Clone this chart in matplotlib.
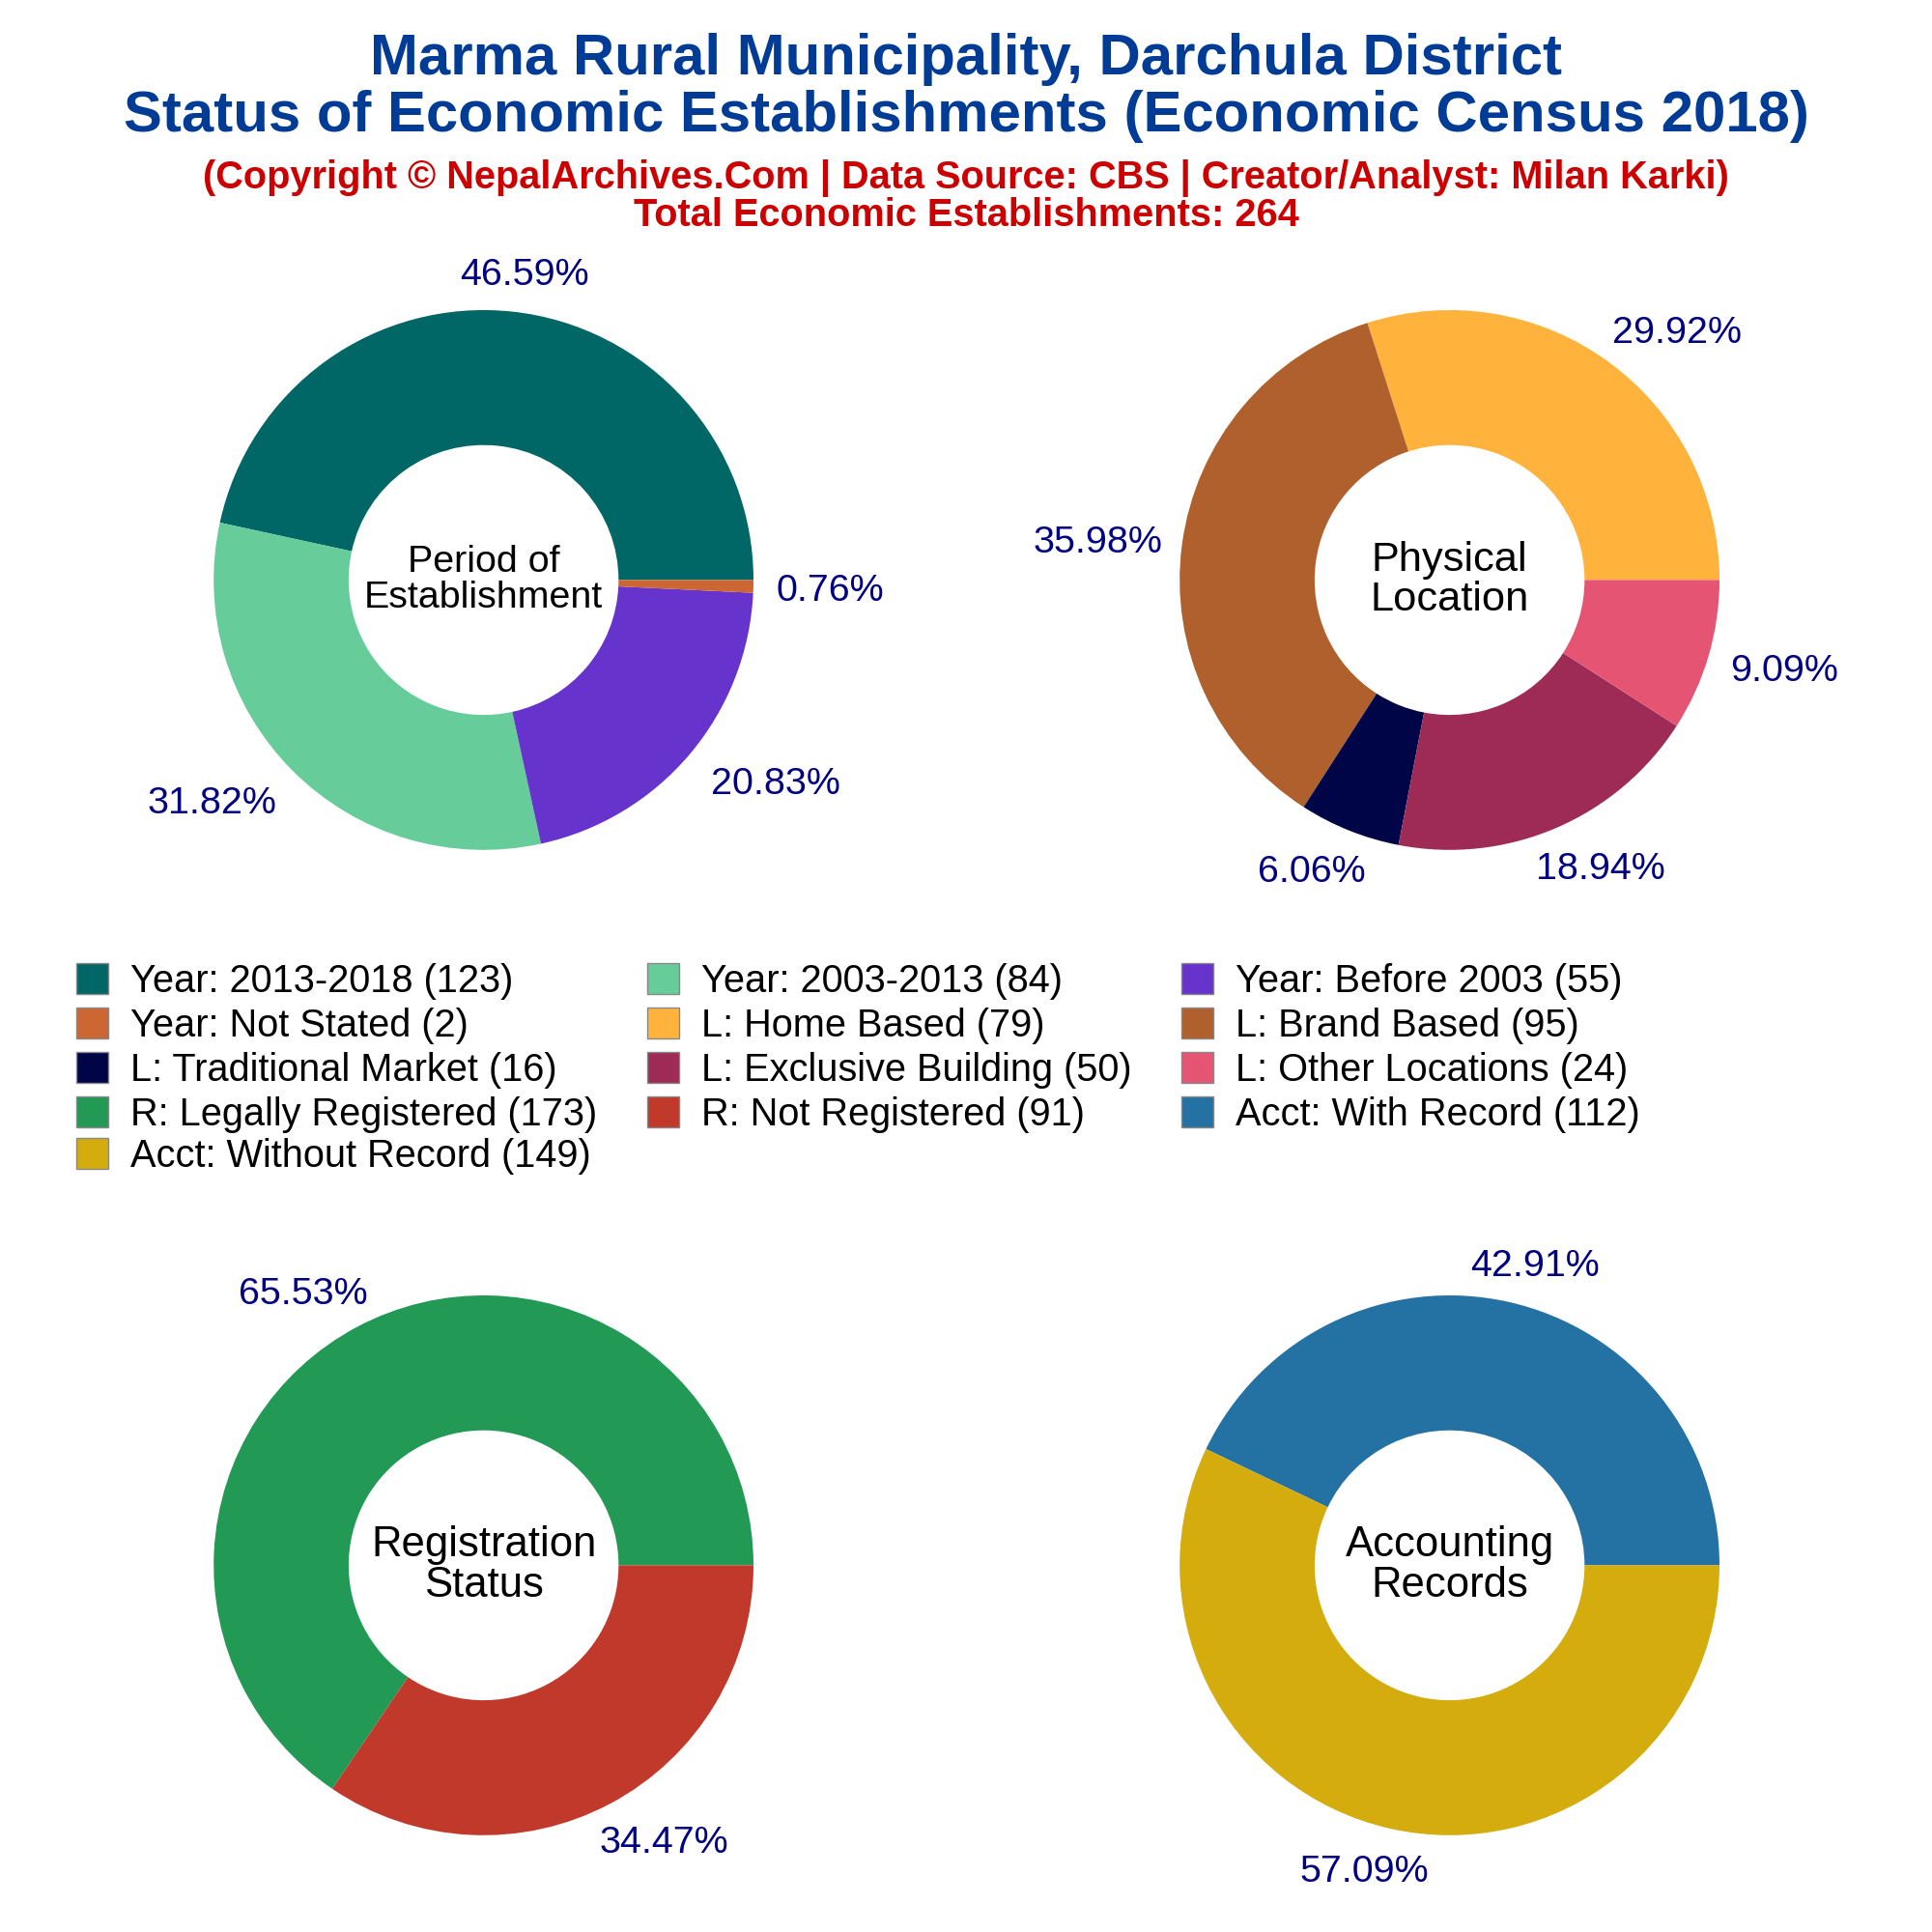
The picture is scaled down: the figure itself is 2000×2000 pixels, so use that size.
import numpy as np
import matplotlib
matplotlib.use("Agg")
import matplotlib.pyplot as plt

plt.rcParams['font.family'] = ['Liberation Sans', 'DejaVu Sans']

period_labels = ['Year: 2013-2018', 'Year: 2003-2013', 'Year: Before 2003', 'Year: Not Stated']
period_values = [123, 84, 55, 2]
period_colors = ['#006666', '#66CC99', '#6633CC', '#CC6633']

location_labels = ['L: Home Based', 'L: Brand Based', 'L: Traditional Market', 'L: Exclusive Building', 'L: Other Locations']
location_values = [79, 95, 16, 50, 24]
location_colors = ['#FFB33D', '#B0602C', '#000548', '#9E2A56', '#E55573']

reg_labels = ['R: Legally Registered', 'R: Not Registered']
reg_values = [173, 91]
reg_colors = ['#229955', '#C0392B']

acct_labels = ['Acct: With Record', 'Acct: Without Record']
acct_values = [112, 149]
acct_colors = ['#2471A3', '#D4AC0D']

centers = ['Period of\nEstablishment', 'Physical\nLocation', 'Registration\nStatus', 'Accounting\nRecords']
center_sizes = [14.2, 15.6, 15.7, 15.7]
positions = [(0.2503, 0.6998), (0.7503, 0.6998), (0.2503, 0.1898), (0.7503, 0.1898)]

R_FRAC = 0.1397

fig = plt.figure(figsize=(10, 10), dpi=200)
fig.patch.set_facecolor('white')
renderer = fig.canvas.get_renderer()

groups = [
    (period_values, period_colors),
    (location_values, location_colors),
    (reg_values, reg_colors),
    (acct_values, acct_colors),
]

for i, (vals, cols) in enumerate(groups):
    cx, cy = positions[i]
    ax = fig.add_axes([cx - R_FRAC, cy - R_FRAC, 2 * R_FRAC, 2 * R_FRAC])
    wedges, _ = ax.pie(vals, colors=cols, radius=1, startangle=0, counterclock=True,
                       wedgeprops=dict(width=0.5))
    ax.set_xlim(-1, 1)
    ax.set_ylim(-1, 1)
    total = sum(vals)
    for w, v in zip(wedges, vals):
        mid = np.deg2rad((w.theta1 + w.theta2) / 2)
        c, s = np.cos(mid), np.sin(mid)
        t = ax.text(1.15 * c, 1.15 * s - 0.014, f'{100 * v / total:.2f}%', ha='center', va='center',
                    color='#000080', fontsize=14.2)
        # labels sit further out sideways, by part of their own width
        half = t.get_window_extent(renderer).width / 2 / (R_FRAC * 2000)
        shift = 0.68 if abs(c) > 0.9 else min(1.15 * abs(c), 0.85)
        t.set_x(1.15 * c + np.sign(c) * shift * half)
    ax.text(0, 0, centers[i], ha='center', va='center', fontsize=center_sizes[i], linespacing=1.03)

fig.text(0.5, 0.9693, 'Marma Rural Municipality, Darchula District', ha='center', va='center',
         fontsize=21.56, fontweight='bold', color='#003C96')
fig.text(0.5, 0.940, 'Status of Economic Establishments (Economic Census 2018)', ha='center', va='center',
         fontsize=21.56, fontweight='bold', color='#003C96')
fig.text(0.5, 0.908, '(Copyright © NepalArchives.Com | Data Source: CBS | Creator/Analyst: Milan Karki)',
         ha='center', va='center', fontsize=14.33, fontweight='bold', color='#CC0000')
fig.text(0.5, 0.8885, 'Total Economic Establishments: 264', ha='center', va='center',
         fontsize=14.33, fontweight='bold', color='#CC0000')

# legend runs left to right, so it is placed by hand
all_labels = period_labels + location_labels + reg_labels + acct_labels
all_values = period_values + location_values + reg_values + acct_values
all_colors = period_colors + location_colors + reg_colors + acct_colors
col_x = [0.0395, 0.335, 0.6115]
row_y = [0.4937, 0.4707, 0.4477, 0.4247, 0.403]
leg = fig.add_axes([0, 0, 1, 1])
leg.set_axis_off()
leg.set_xlim(0, 1)
leg.set_ylim(0, 1)
for i, (lab, val, col) in enumerate(zip(all_labels, all_values, all_colors)):
    x = col_x[i % 3]
    y = row_y[i // 3]
    leg.add_patch(plt.Rectangle((x, y - 0.008), 0.0165, 0.016, facecolor=col, edgecolor='#888888', linewidth=0.5))
    leg.text(x + 0.0278, y - 0.0015, f'{lab} ({val})', ha='left', va='center', fontsize=14.33)

fig.savefig('out.png', dpi=200)
